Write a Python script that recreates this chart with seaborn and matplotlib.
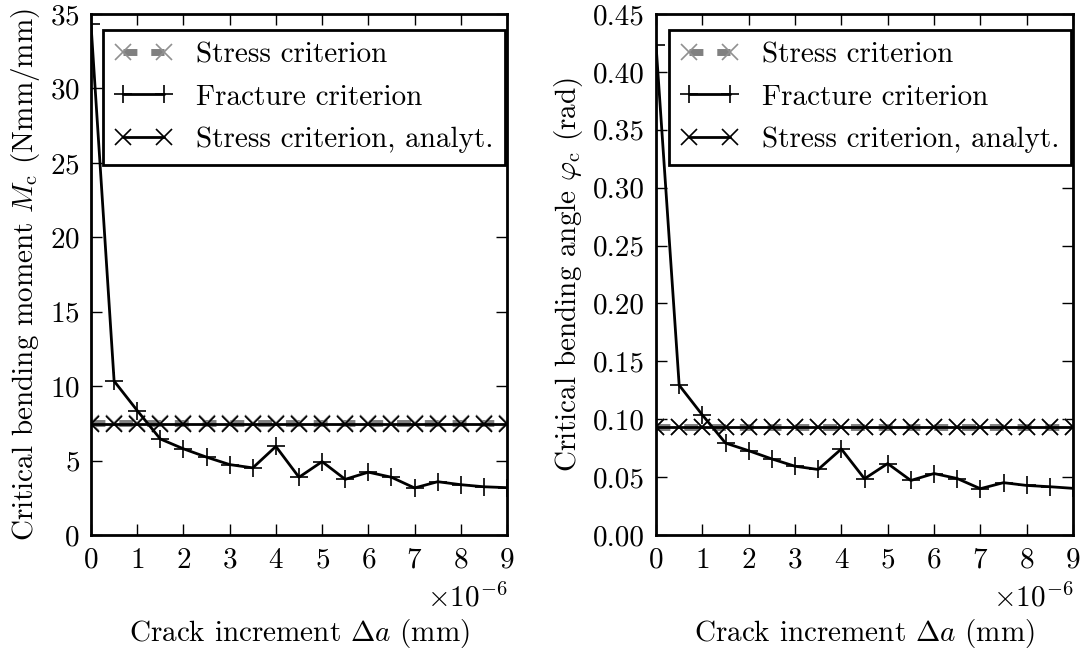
import numpy as np
import pandas as pd
import matplotlib
matplotlib.use("Agg")
import matplotlib.pyplot as plt
from matplotlib.ticker import MultipleLocator, FormatStrFormatter
from matplotlib.transforms import ScaledTranslation
import seaborn as sns

# ---- data -------------------------------------------------------------
crack_increment = [0.0, 0.5e-6, 1.0e-6, 1.5e-6, 2.0e-6, 2.5e-6, 3.0e-6, 3.5e-6,
                   4.0e-6, 4.5e-6, 5.0e-6, 5.5e-6, 6.0e-6, 6.5e-6, 7.0e-6,
                   7.5e-6, 8.0e-6, 8.5e-6, 9.0e-6]

moment_stress = [7.5, 7.5, 7.5, 7.5, 7.5, 7.5, 7.5, 7.5, 7.5, 7.5,
                 7.5, 7.5, 7.5, 7.5, 7.5, 7.5, 7.5, 7.5, 7.5]
moment_fracture = [34.3, 10.34, 8.36, 6.45, 5.79, 5.23, 4.73, 4.51, 5.95, 3.88,
                   4.93, 3.74, 4.22, 3.88, 3.16, 3.58, 3.38, 3.24, 3.18]
moment_analytic = [7.48, 7.48, 7.48, 7.48, 7.48, 7.48, 7.48, 7.48, 7.48, 7.48,
                   7.48, 7.48, 7.48, 7.48, 7.48, 7.48, 7.48, 7.48, 7.48]

angle_stress = [0.0931, 0.0931, 0.0931, 0.0931, 0.0931, 0.0931, 0.0931, 0.0931,
                0.0931, 0.0931, 0.0931, 0.0931, 0.0931, 0.0931, 0.0931, 0.0931,
                0.0931, 0.0931, 0.0931]
angle_fracture = [0.4236, 0.1294, 0.1037, 0.0794, 0.0728, 0.0657, 0.0594, 0.0566,
                  0.0743, 0.0486, 0.0617, 0.0471, 0.0531, 0.0488, 0.0400, 0.0452,
                  0.0428, 0.0417, 0.0403]
angle_analytic = [0.0929, 0.0929, 0.0929, 0.0929, 0.0929, 0.0929, 0.0929, 0.0929,
                  0.0929, 0.0929, 0.0929, 0.0929, 0.0929, 0.0929, 0.0929, 0.0929,
                  0.0929, 0.0929, 0.0929]

series_labels = ["Stress criterion", "Fracture criterion", "Stress criterion, analyt."]
x_label = r"Crack increment $\Delta a$ (mm)"
y_labels = [r"Critical bending moment $M_\mathrm{c}$ (Nmm/mm)",
            r"Critical bending angle $\varphi_\mathrm{c}$ (rad)"]
y_limits = [(0, 35), (0, 0.45)]
y_steps = [5, 0.05]

# ---- style ------------------------------------------------------------
sns.set_style("ticks")
plt.rcParams.update({
    "font.family": "serif",
    "font.serif": ["cmr10"],
    "mathtext.fontset": "cm",
    "axes.formatter.use_mathtext": True,
    "axes.unicode_minus": False,
    "font.size": 21,
    "axes.linewidth": 2.0,
    "axes.edgecolor": "black",
    "xtick.direction": "in",
    "ytick.direction": "in",
    "xtick.top": True,
    "ytick.right": True,
    "xtick.major.size": 8,
    "ytick.major.size": 8,
    "xtick.major.width": 1.0,
    "ytick.major.width": 1.0,
    "xtick.major.pad": 9,
    "ytick.major.pad": 8,
    "xtick.color": "black",
    "ytick.color": "black",
    "text.color": "black",
    "axes.labelcolor": "black",
})

fig = plt.figure(figsize=(10.85, 6.52), dpi=100)
ax_left = fig.add_axes([91 / 1085, 117 / 652, 416 / 1085, 521 / 652])
ax_right = fig.add_axes([656 / 1085, 117 / 652, 417 / 1085, 521 / 652])

panels = [
    (ax_left, moment_stress, moment_fracture, moment_analytic),
    (ax_right, angle_stress, angle_fracture, angle_analytic),
]

for i, (ax, ys, yf, ya) in enumerate(panels):
    df = pd.DataFrame({"x": crack_increment, "stress": ys,
                       "fracture": yf, "analytic": ya})
    sns.lineplot(data=df, x="x", y="stress", ax=ax, color="#808080",
                 linewidth=5, linestyle=(0, (2.0, 2.0)), marker="x",
                 markersize=11, markeredgewidth=1.2, markeredgecolor="#909090",
                 label=series_labels[0], sort=False)
    sns.lineplot(data=df, x="x", y="fracture", ax=ax, color="black",
                 linewidth=2.0, marker="+", markersize=13,
                 markeredgewidth=1.2, markeredgecolor="black",
                 label=series_labels[1], sort=False)
    sns.lineplot(data=df, x="x", y="analytic", ax=ax, color="black",
                 linewidth=2.0, marker="x", markersize=12,
                 markeredgewidth=1.2, markeredgecolor="black",
                 label=series_labels[2], sort=False)

    ax.set_xlim(0, 9e-6)
    ax.set_ylim(*y_limits[i])
    ax.xaxis.set_major_locator(MultipleLocator(1e-6))
    ax.yaxis.set_major_locator(MultipleLocator(y_steps[i]))
    if i == 1:
        ax.yaxis.set_major_formatter(FormatStrFormatter("%.2f"))
    ax.set_xlabel(x_label, labelpad=31)
    ax.set_ylabel(y_labels[i], labelpad=6)
    off = ax.xaxis.get_offset_text()
    off.set_transform(off.get_transform() +
                      ScaledTranslation(0, -4 / 72, fig.dpi_scale_trans))
    for sp in ax.spines.values():
        sp.set_visible(True)
        sp.set_linewidth(2.0)
    leg = ax.legend(loc="upper right", bbox_to_anchor=(0.996, 0.969),
                    borderaxespad=0.0, fancybox=False, framealpha=1,
                    edgecolor="black", numpoints=2, handlelength=2.0,
                    handletextpad=0.8, labelspacing=0.55, fontsize=21)
    leg.get_frame().set_linewidth(2.0)

fig.savefig("out.png", dpi=100)
